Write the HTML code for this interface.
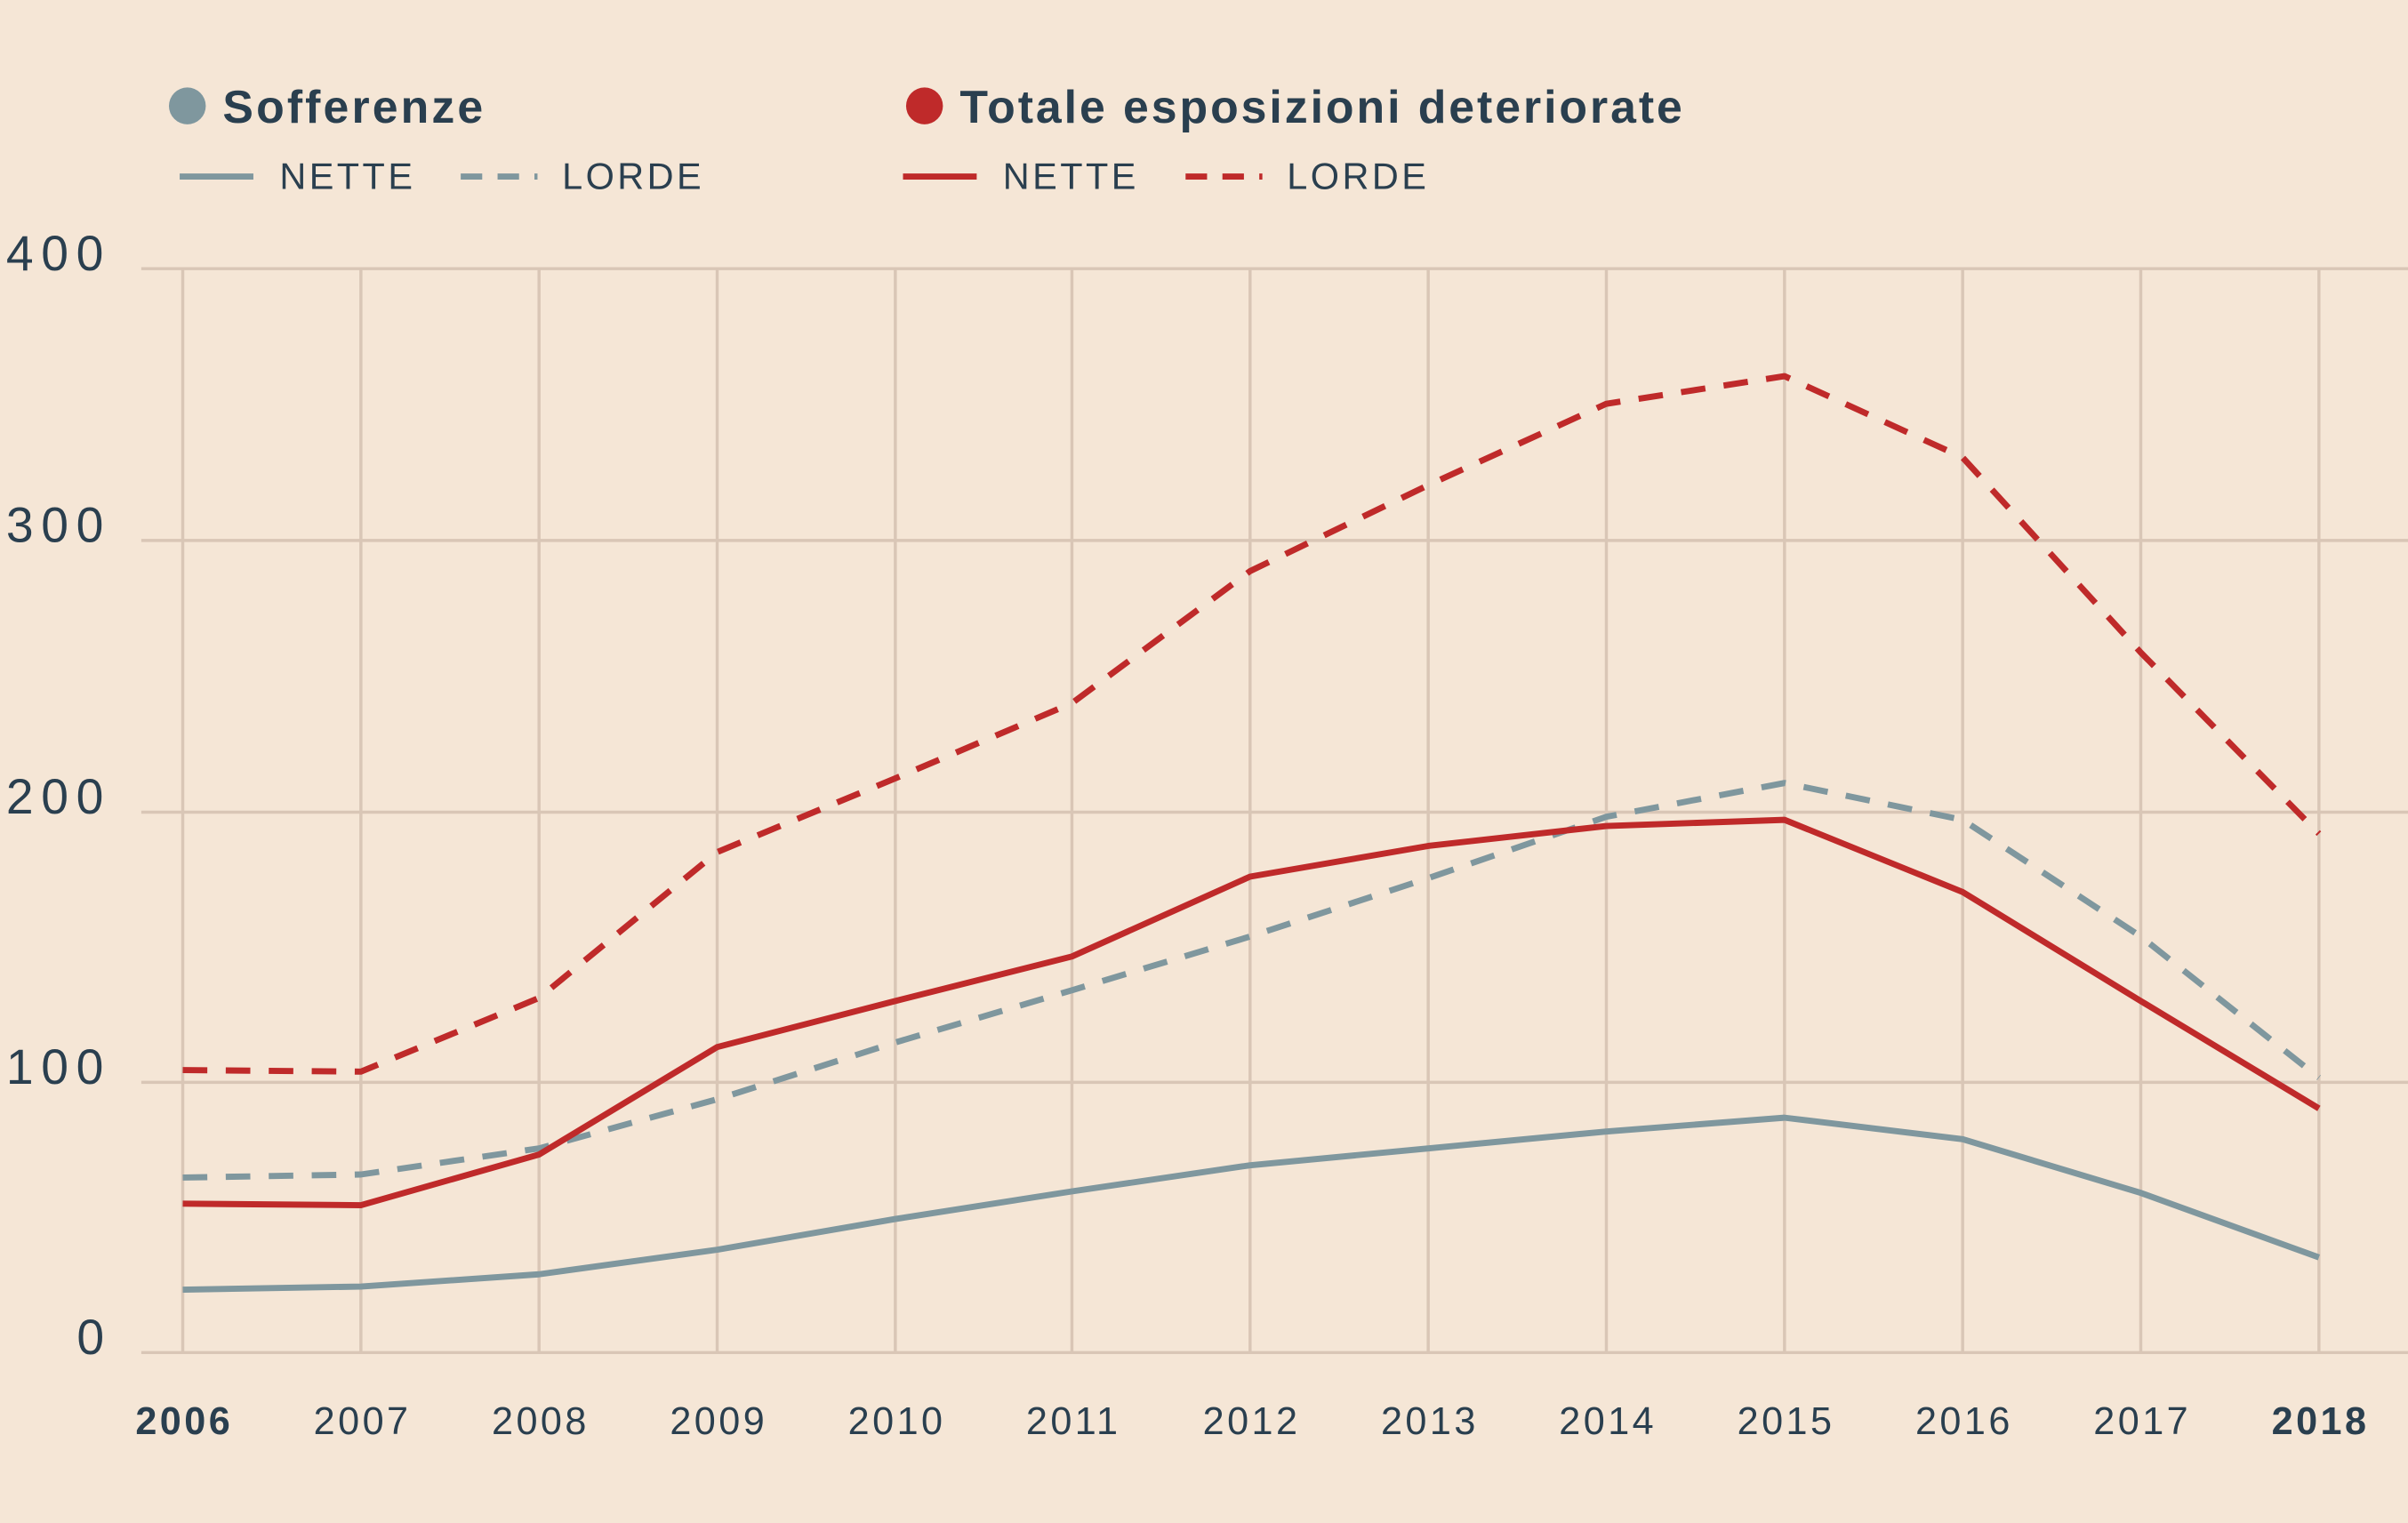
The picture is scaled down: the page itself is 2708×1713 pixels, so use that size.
<!DOCTYPE html>
<html><head><meta charset="utf-8"><style>
html,body{margin:0;padding:0;background:#f5e6d6;}
svg{display:block;}
text{font-family:"Liberation Sans",sans-serif;fill:#2a3f4f;}
</style></head><body>
<svg width="2708" height="1713" viewBox="0 0 1568 992" preserveAspectRatio="none" xmlns="http://www.w3.org/2000/svg">
<rect width="1568" height="992" fill="#f5e6d6"/>
<g stroke="#d9c6b6" stroke-width="2">
<line x1="92" y1="175" x2="1568" y2="175"/>
<line x1="92" y1="352" x2="1568" y2="352"/>
<line x1="92" y1="529" x2="1568" y2="529"/>
<line x1="92" y1="705" x2="1568" y2="705"/>
<line x1="92" y1="881" x2="1568" y2="881"/>
<line x1="119" y1="175" x2="119" y2="881"/><line x1="235" y1="175" x2="235" y2="881"/>
<line x1="351" y1="175" x2="351" y2="881"/><line x1="467" y1="175" x2="467" y2="881"/>
<line x1="583" y1="175" x2="583" y2="881"/><line x1="698" y1="175" x2="698" y2="881"/>
<line x1="814" y1="175" x2="814" y2="881"/><line x1="930" y1="175" x2="930" y2="881"/>
<line x1="1046" y1="175" x2="1046" y2="881"/><line x1="1162" y1="175" x2="1162" y2="881"/>
<line x1="1278" y1="175" x2="1278" y2="881"/><line x1="1394" y1="175" x2="1394" y2="881"/>
<line x1="1510" y1="175" x2="1510" y2="881"/>
</g>
<g font-size="32" letter-spacing="5">
<text x="4" y="176">400</text><text x="4" y="353">300</text><text x="4" y="530">200</text><text x="4" y="706">100</text><text x="50" y="882">0</text>
</g>
<g font-size="25" letter-spacing="2" text-anchor="middle">
<text x="120" y="934" font-weight="bold">2006</text><text x="236" y="934">2007</text><text x="352" y="934">2008</text>
<text x="468" y="934">2009</text><text x="584" y="934">2010</text><text x="699" y="934">2011</text>
<text x="815" y="934">2012</text><text x="931" y="934">2013</text><text x="1047" y="934">2014</text>
<text x="1163" y="934">2015</text><text x="1279" y="934">2016</text><text x="1395" y="934">2017</text>
<text x="1511" y="934" font-weight="bold">2018</text>
</g>
<g fill="none" stroke-width="4" stroke-linejoin="round">
<polyline stroke="#7f979e" points="119,840 235,838 351,830 467,814 583,794 698,776 814,759 930,748 1046,737 1162,728 1278,742 1394,777 1510,819"/>
<polyline stroke="#7f979e" stroke-dasharray="16,12" points="119,767 235,765 351,748 467,716 583,679 698,645 814,610 930,572 1046,532 1162,510 1278,534 1394,610 1510,702"/>
<polyline stroke="#bf2a2a" points="119,784 235,785 351,752 467,682 583,652 698,623 814,571 930,551 1046,538 1162,534 1278,581 1394,652 1510,722"/>
<polyline stroke="#bf2a2a" stroke-dasharray="16,12" points="119,697 235,698 351,650 467,555 583,507 698,458 814,372 930,316 1046,263 1162,245 1278,298 1394,425 1510,543"/>
</g>
<circle cx="122" cy="69" r="12" fill="#7f979e"/>
<text x="145" y="80" font-size="30" font-weight="bold" letter-spacing="1.8">Sofferenze</text>
<circle cx="602" cy="69" r="12" fill="#bf2a2a"/>
<text x="625" y="80" font-size="30" font-weight="bold" letter-spacing="1.7">Totale esposizioni deteriorate</text>
<g stroke-width="4">
<line x1="117" y1="115" x2="165" y2="115" stroke="#7f979e"/>
<line x1="300" y1="115" x2="350" y2="115" stroke="#7f979e" stroke-dasharray="14,10"/>
<line x1="588" y1="115" x2="636" y2="115" stroke="#bf2a2a"/>
<line x1="772" y1="115" x2="822" y2="115" stroke="#bf2a2a" stroke-dasharray="14,10"/>
</g>
<g font-size="24" letter-spacing="2">
<text x="182" y="123">NETTE</text><text x="366" y="123">LORDE</text>
<text x="653" y="123">NETTE</text><text x="838" y="123">LORDE</text>
</g>
</svg>
</body></html>
